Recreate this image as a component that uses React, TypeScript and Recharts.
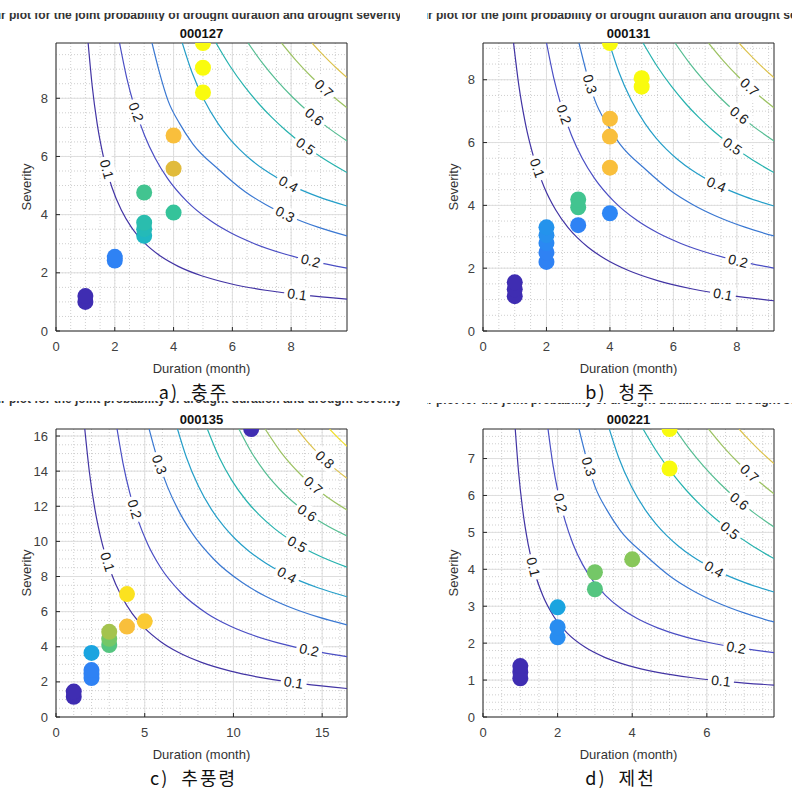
import React from 'react';
import { ComposedChart, Line, Scatter, XAxis, YAxis, CartesianGrid, ReferenceArea } from 'recharts';

// ---- a) 충주, station 000127 ----
const A_DURATION = [1, 1, 2, 2, 3, 3, 3, 3, 4, 4, 4, 5, 5, 5];
const A_SEVERITY = [1.0, 1.2, 2.42, 2.55, 3.27, 3.5, 3.72, 4.76, 4.07, 5.58, 6.72, 8.2, 9.05, 9.9];
const A_TONE = [0.02, 0.02, 0.24, 0.24, 0.42, 0.44, 0.46, 0.52, 0.5, 0.76, 0.82, 1, 1, 1];
const A_TICKS = [0, 2, 4, 6, 8];

// ---- b) 청주, station 000131 ----
const B_DURATION = [1, 1, 1, 2, 2, 2, 2, 2, 3, 3, 3, 4, 4, 4, 4, 4, 5, 5];
const B_SEVERITY = [1.11, 1.33, 1.55, 2.2, 2.5, 2.8, 3.05, 3.3, 3.37, 3.94, 4.19, 3.75, 5.2, 6.19, 6.76, 9.17, 7.78, 8.05];
const B_TONE = [0.02, 0.02, 0.02, 0.24, 0.24, 0.26, 0.28, 0.29, 0.24, 0.52, 0.52, 0.25, 0.82, 0.82, 0.82, 1, 1, 1];
const B_TICKS = [0, 2, 4, 6, 8];

// ---- c) 추풍령, station 000135 ----
const C_DURATION = [1, 1, 2, 2, 2, 2, 3, 3, 3, 4, 5, 4, 11];
const C_SEVERITY = [1.15, 1.45, 2.22, 2.45, 2.67, 3.65, 4.1, 4.45, 4.85, 5.15, 5.45, 7.0, 16.4];
const C_TONE = [0.02, 0.02, 0.24, 0.24, 0.24, 0.34, 0.55, 0.6, 0.67, 0.82, 0.86, 0.93, 0.02];
const C_XTICKS = [0, 5, 10, 15];
const C_YTICKS = [0, 2, 4, 6, 8, 10, 12, 14, 16];

// ---- d) 제천, station 000221 ----
const D_DURATION = [1, 1, 1, 2, 2, 2, 3, 3, 4, 5, 5];
const D_SEVERITY = [1.05, 1.22, 1.38, 2.16, 2.43, 2.97, 3.46, 3.92, 4.27, 6.73, 7.8];
const D_TONE = [0.02, 0.02, 0.02, 0.27, 0.27, 0.34, 0.55, 0.6, 0.63, 1, 1];
const D_XTICKS = [0, 2, 4, 6];
const D_YTICKS = [0, 1, 2, 3, 4, 5, 6, 7];

// contour lines of the joint probability, read as fractions of the (square) axis range
const LEVEL_01 = [[0.1105, 1], [0.1245, 0.85], [0.1414, 0.72], [0.164, 0.6], [0.1918, 0.5], [0.2244, 0.42], [0.2593, 0.36], [0.305, 0.305], [0.36, 0.2593], [0.42, 0.2244], [0.5, 0.1918], [0.6, 0.164], [0.72, 0.1414], [0.85, 0.1245], [1, 0.1105]];
const LEVEL_02 = [[0.2184, 1], [0.2428, 0.88], [0.2692, 0.78], [0.304, 0.68], [0.3409, 0.6], [0.3833, 0.53], [0.45, 0.45], [0.53, 0.3833], [0.6, 0.3409], [0.68, 0.304], [0.78, 0.2692], [0.88, 0.2428], [1, 0.2184]];
const LEVEL_03 = [[0.33, 1], [0.355, 0.9], [0.385, 0.8], [0.425, 0.72], [0.47, 0.65], [0.56, 0.56], [0.65, 0.4835], [0.72, 0.4394], [0.8, 0.3994], [0.9, 0.3605], [1, 0.33]];
const LEVEL_04 = [[0.434, 1], [0.4665, 0.9], [0.51, 0.8], [0.557, 0.72], [0.5948, 0.67], [0.6307, 0.6307], [0.67, 0.5948], [0.72, 0.557], [0.8, 0.51], [0.9, 0.4665], [1, 0.434]];
const LEVEL_05 = [[0.55, 1], [0.5978, 0.92], [0.6471, 0.85], [0.6962, 0.79], [0.7416, 0.7416], [0.79, 0.6962], [0.85, 0.6471], [0.92, 0.5978], [1, 0.55]];
const LEVEL_06 = [[0.66, 1], [0.7097, 0.93], [0.7586, 0.87], [0.8124, 0.8124], [0.87, 0.7586], [0.93, 0.7097], [1, 0.66]];
const LEVEL_07 = [[0.775, 1], [0.8245, 0.94], [0.8803, 0.8803], [0.94, 0.8245], [1, 0.775]];
const LEVEL_08 = [[0.88, 1], [0.907, 0.97], [0.938, 0.938], [0.97, 0.907], [1, 0.88]];
// 청주: the 0.1 line bulges a little further out
const B_LEVEL_01 = [[0.105, 1], [0.1235, 0.85], [0.1458, 0.72], [0.175, 0.6], [0.21, 0.5], [0.25, 0.42], [0.2917, 0.36], [0.324, 0.324], [0.36, 0.2917], [0.42, 0.25], [0.5, 0.21], [0.6, 0.175], [0.72, 0.1458], [0.85, 0.1235], [1, 0.105]];
// 추풍령
const C_LEVEL_01 = [[0.0989, 1], [0.1148, 0.85], [0.1339, 0.72], [0.1592, 0.6], [0.1896, 0.5], [0.2246, 0.42], [0.2614, 0.36], [0.3066, 0.3066], [0.36, 0.2614], [0.42, 0.2246], [0.5, 0.1896], [0.6, 0.1592], [0.72, 0.1339], [0.85, 0.1148], [1, 0.0989]];
const C_LEVEL_02 = [[0.2098, 1], [0.2305, 0.88], [0.2531, 0.78], [0.2831, 0.68], [0.3153, 0.6], [0.3589, 0.52], [0.4306, 0.4306], [0.52, 0.3589], [0.6, 0.3153], [0.68, 0.2831], [0.78, 0.2531], [0.88, 0.2305], [1, 0.2098]];
const C_LEVEL_03 = [[0.32, 1], [0.3475, 0.9], [0.3829, 0.8], [0.4194, 0.72], [0.4667, 0.64], [0.545, 0.545], [0.64, 0.4667], [0.72, 0.4194], [0.8, 0.3829], [0.9, 0.3475], [1, 0.32]];
const C_LEVEL_04 = [[0.4175, 1], [0.4486, 0.9], [0.49, 0.8], [0.5346, 0.72], [0.5783, 0.66], [0.6171, 0.6171], [0.66, 0.5783], [0.72, 0.5346], [0.8, 0.49], [0.9, 0.4486], [1, 0.4175]];
const C_LEVEL_05 = [[0.52, 1], [0.5615, 0.9], [0.6053, 0.82], [0.655, 0.75], [0.7, 0.7], [0.75, 0.655], [0.82, 0.6053], [0.9, 0.5615], [1, 0.52]];
const C_LEVEL_06 = [[0.6286, 1], [0.671, 0.92], [0.7182, 0.85], [0.7796, 0.7796], [0.85, 0.7182], [0.92, 0.671], [1, 0.6286]];
const C_LEVEL_07 = [[0.7186, 1], [0.7726, 0.92], [0.8413, 0.8413], [0.92, 0.7726], [1, 0.7186]];
const C_LEVEL_08 = [[0.8286, 1], [0.8606, 0.96], [0.9083, 0.9083], [0.96, 0.8606], [1, 0.8286]];
const C_LEVEL_09 = [[0.94, 1], [0.9693, 0.9693], [1, 0.94]];
// 제천: the two lowest lines sit further in
const D_LEVEL_01 = [[0.1108, 1], [0.1223, 0.85], [0.1363, 0.72], [0.1551, 0.6], [0.1784, 0.5], [0.2062, 0.42], [0.2427, 0.35], [0.2904, 0.2904], [0.35, 0.2427], [0.42, 0.2062], [0.5, 0.1784], [0.6, 0.1551], [0.72, 0.1363], [0.85, 0.1223], [1, 0.1108]];
const D_LEVEL_02 = [[0.2234, 1], [0.2397, 0.88], [0.2579, 0.78], [0.2825, 0.68], [0.3096, 0.6], [0.342, 0.53], [0.38, 0.47], [0.4217, 0.4217], [0.47, 0.38], [0.53, 0.342], [0.6, 0.3096], [0.68, 0.2825], [0.78, 0.2579], [0.88, 0.2397], [1, 0.2234]];

type Contours = [number, number[][]][];
const UPPER: Contours = [[0.4, LEVEL_04], [0.5, LEVEL_05], [0.6, LEVEL_06], [0.7, LEVEL_07], [0.8, LEVEL_08]];
const A_CONTOURS: Contours = [[0.1, LEVEL_01], [0.2, LEVEL_02], [0.3, LEVEL_03], ...UPPER];
const B_CONTOURS: Contours = [[0.1, B_LEVEL_01], [0.2, LEVEL_02], [0.3, LEVEL_03], ...UPPER];
const C_CONTOURS: Contours = [[0.1, C_LEVEL_01], [0.2, C_LEVEL_02], [0.3, C_LEVEL_03], [0.4, C_LEVEL_04], [0.5, C_LEVEL_05], [0.6, C_LEVEL_06], [0.7, C_LEVEL_07], [0.8, C_LEVEL_08], [0.9, C_LEVEL_09]];
const D_CONTOURS: Contours = [[0.1, D_LEVEL_01], [0.2, D_LEVEL_02], [0.3, LEVEL_03], ...UPPER];

// inline contour labels [level, u, v] (fractions of the axis range)
const A_LABELS = [[0.1, 0.166, 0.559], [0.2, 0.266, 0.757], [0.1, 0.828, 0.122], [0.2, 0.876, 0.247], [0.3, 0.786, 0.403], [0.4, 0.807, 0.524], [0.5, 0.848, 0.628], [0.6, 0.879, 0.733], [0.7, 0.91, 0.83]];
const B_LABELS = [[0.1, 0.169, 0.56], [0.2, 0.276, 0.751], [0.3, 0.359, 0.855], [0.1, 0.824, 0.125], [0.2, 0.876, 0.242], [0.4, 0.807, 0.519], [0.5, 0.845, 0.623], [0.6, 0.869, 0.734], [0.7, 0.9, 0.83]];
const C_LABELS = [[0.1, 0.169, 0.536], [0.2, 0.266, 0.72], [0.3, 0.334, 0.869], [0.1, 0.817, 0.121], [0.2, 0.869, 0.228], [0.4, 0.8, 0.505], [0.5, 0.834, 0.609], [0.6, 0.866, 0.713], [0.7, 0.886, 0.806], [0.8, 0.917, 0.886]];
const D_LABELS = [[0.1, 0.155, 0.517], [0.2, 0.266, 0.743], [0.3, 0.359, 0.868], [0.1, 0.817, 0.118], [0.2, 0.869, 0.233], [0.4, 0.807, 0.535], [0.5, 0.841, 0.639], [0.6, 0.876, 0.743], [0.7, 0.91, 0.84]];

const SUPTITLE = 'Contour plot for the joint probability of drought duration and drought severity';

// styling
const FONT = '"Liberation Sans", Arial, Helvetica, sans-serif';
const KFONT = '"Noto Sans CJK KR", "Noto Sans", sans-serif';
const CONTOUR_COLOR: Record<string, string> = {
  '0.1': '#4234a4', '0.2': '#4a4ec4', '0.3': '#3a78d2', '0.4': '#249ec8', '0.5': '#26b2ae',
  '0.6': '#55bd92', '0.7': '#9cc262', '0.8': '#dcc24c', '0.9': '#f0de2c',
};
const PARULA: [number, string][] = [
  [0, '#3e26a8'], [0.125, '#4454e4'], [0.25, '#2d86f5'], [0.375, '#12b0d8'], [0.5, '#35c39a'],
  [0.625, '#84c85a'], [0.75, '#dcbb3a'], [0.81, '#f9bc3e'], [0.875, '#fcce2e'], [1, '#f9fb0e'],
];

const hex = (s: string) => [1, 3, 5].map((i) => parseInt(s.slice(i, i + 2), 16));
function parula(t: number) {
  for (let i = 0; i < PARULA.length - 1; i++) {
    const [t0, c0] = PARULA[i];
    const [t1, c1] = PARULA[i + 1];
    if (t <= t1) {
      const f = (t - t0) / (t1 - t0);
      const a = hex(c0), b = hex(c1);
      return `rgb(${a.map((v, k) => Math.round(v + (b[k] - v) * f)).join(',')})`;
    }
  }
  return PARULA[PARULA.length - 1][1];
}

// put a label on its contour and turn it along the line
function snap(pts: number[][], u: number, v: number) {
  let best = { d: Infinity, u, v, ang: 0 };
  for (let i = 0; i < pts.length - 1; i++) {
    const [x1, y1] = pts[i];
    const [x2, y2] = pts[i + 1];
    const dx = x2 - x1, dy = y2 - y1;
    const t = Math.max(0, Math.min(1, ((u - x1) * dx + (v - y1) * dy) / (dx * dx + dy * dy)));
    const px = x1 + t * dx, py = y1 + t * dy;
    const d = (px - u) ** 2 + (py - v) ** 2;
    if (d < best.d) best = { d, u: px, v: py, ang: (Math.atan2(-dy, dx) * 180) / Math.PI };
  }
  return best;
}

const steps = (step: number, max: number) => {
  const out: number[] = [];
  for (let k = 1; k * step < max - 1e-9; k++) out.push(+(k * step).toFixed(3));
  return out;
};

const PANELS = [
  { code: '000127', caption: 'a)  충주', max: 9.9, durations: A_DURATION, severities: A_SEVERITY, tones: A_TONE, labels: A_LABELS, contours: A_CONTOURS, xTicks: A_TICKS, yTicks: A_TICKS, minorX: 0.5, minorY: 0.5, left: 0, top: 0, capTop: 13, capBase: 5.5 },
  { code: '000131', caption: 'b)  청주', max: 9.17, durations: B_DURATION, severities: B_SEVERITY, tones: B_TONE, labels: B_LABELS, contours: B_CONTOURS, xTicks: B_TICKS, yTicks: B_TICKS, minorX: 0.5, minorY: 0.5, left: 427, top: 0, capTop: 13, capBase: 5.5 },
  { code: '000135', caption: 'c)  추풍령', max: 16.4, durations: C_DURATION, severities: C_SEVERITY, tones: C_TONE, labels: C_LABELS, contours: C_CONTOURS, xTicks: C_XTICKS, yTicks: C_YTICKS, minorX: 1, minorY: 0.5, left: 0, top: 386, capTop: 15, capBase: 1.5 },
  { code: '000221', caption: 'd)  제천', max: 7.8, durations: D_DURATION, severities: D_SEVERITY, tones: D_TONE, labels: D_LABELS, contours: D_CONTOURS, xTicks: D_XTICKS, yTicks: D_YTICKS, minorX: 0.5, minorY: 0.2, left: 427, top: 386, capTop: 16.5, capBase: 1 },
];

const W = 365;
const H = 380;

const Dot = (props: any) => {
  const { cx, cy, payload } = props;
  if (cx == null || cy == null) return null;
  return <circle cx={cx} cy={cy} r={8} fill={parula(payload.tone)} />;
};

const ContourLabel = (props: any) => {
  const { cx, cy, payload } = props;
  if (cx == null || cy == null) return null;
  return (
    <g transform={`rotate(${payload.angle.toFixed(1)} ${cx} ${cy})`}>
      <rect x={cx - 13} y={cy - 8} width={26} height={16} fill="#ffffff" />
      <text x={cx} y={cy} dy="0.36em" textAnchor="middle" fontSize={14} fill="#1a1a1a" fontFamily={FONT}>
        {payload.text}
      </text>
    </g>
  );
};

function Panel({ p }: { p: (typeof PANELS)[number] }) {
  const m = p.max;
  const dots = p.durations.map((d, i) => ({ x: d, y: p.severities[i], tone: p.tones[i] }));
  const labels = p.labels.map(([lvl, u, v]) => {
    const pts = p.contours.find((c) => c[0] === lvl)![1];
    const s = snap(pts, u, v);
    return { x: s.u * m, y: s.v * m, text: lvl.toFixed(1), angle: s.ang };
  });
  const tick = { fontSize: 13, fill: '#404040', fontFamily: FONT };

  return (
    <div style={{ position: 'absolute', left: p.left, top: p.top, width: W, height: 402 }}>
      <svg width={400} height={8} style={{ position: 'absolute', left: 0, top: p.capTop, overflow: 'hidden' }}>
        <text x={-41} y={p.capBase} fontSize={12} fontWeight="bold" fill="#333" fontFamily={FONT}>
          {SUPTITLE}
        </text>
      </svg>
      <ComposedChart width={W} height={H} margin={{ top: 43, right: 18, bottom: 0, left: 0 }}>
        <XAxis
          type="number"
          dataKey="x"
          domain={[0, m]}
          allowDataOverflow
          ticks={p.xTicks}
          interval={0}
          height={49}
          axisLine={false}
          tickSize={-4}
          tickMargin={15}
          tickLine={{ stroke: '#262626' }}
          tick={tick}
        />
        <YAxis
          type="number"
          dataKey="y"
          domain={[0, m]}
          allowDataOverflow
          ticks={p.yTicks}
          interval={0}
          width={56}
          axisLine={false}
          tickSize={-4}
          tickMargin={12}
          tickLine={{ stroke: '#262626' }}
          tick={tick}
        />
        <CartesianGrid
          verticalValues={steps(p.minorX, m)}
          horizontalValues={steps(p.minorY, m)}
          stroke="#cfcfcf"
          strokeDasharray="1 2"
        />
        <CartesianGrid verticalValues={p.xTicks} horizontalValues={p.yTicks} stroke="#dedede" />
        {p.contours.map(([lvl, pts]) => (
          <Line
            key={lvl}
            data={pts.map(([u, v]) => ({ x: u * m, y: v * m }))}
            dataKey="y"
            type="monotone"
            stroke={CONTOUR_COLOR[lvl.toFixed(1)]}
            strokeWidth={1.2}
            dot={false}
            activeDot={false}
            isAnimationActive={false}
          />
        ))}
        <Scatter data={labels} shape={ContourLabel} isAnimationActive={false} />
        <ReferenceArea x1={0} x2={m} y1={0} y2={m} fill="none" stroke="#262626" strokeWidth={1} />
        <Scatter data={dots} shape={Dot} isAnimationActive={false} />
      </ComposedChart>
      <div
        style={{
          position: 'absolute', left: 201.5, top: 33, transform: 'translate(-50%, -50%)',
          fontFamily: FONT, fontWeight: 'bold', fontSize: 13, color: '#111', whiteSpace: 'nowrap',
        }}
      >
        {p.code}
      </div>
      <div
        style={{
          position: 'absolute', left: 26, top: 187, transform: 'translate(-50%, -50%) rotate(-90deg)',
          fontFamily: FONT, fontSize: 13, color: '#333', whiteSpace: 'nowrap',
        }}
      >
        Severity
      </div>
      <div
        style={{
          position: 'absolute', left: 201.5, top: 368, transform: 'translate(-50%, -50%)',
          fontFamily: FONT, fontSize: 13, color: '#333', whiteSpace: 'nowrap',
        }}
      >
        Duration (month)
      </div>
      <div
        style={{
          position: 'absolute', left: 193.5, top: 391, transform: 'translate(-50%, -50%)',
          fontFamily: KFONT, fontSize: 18, color: '#111', whiteSpace: 'pre', letterSpacing: 2,
        }}
      >
        {p.caption}
      </div>
    </div>
  );
}

export default function App() {
  return (
    <div style={{ position: 'absolute', left: 0, top: 0, width: 792, height: 788, overflow: 'hidden', background: '#fff' }}>
      {PANELS.map((p) => (
        <Panel key={p.code} p={p} />
      ))}
    </div>
  );
}
